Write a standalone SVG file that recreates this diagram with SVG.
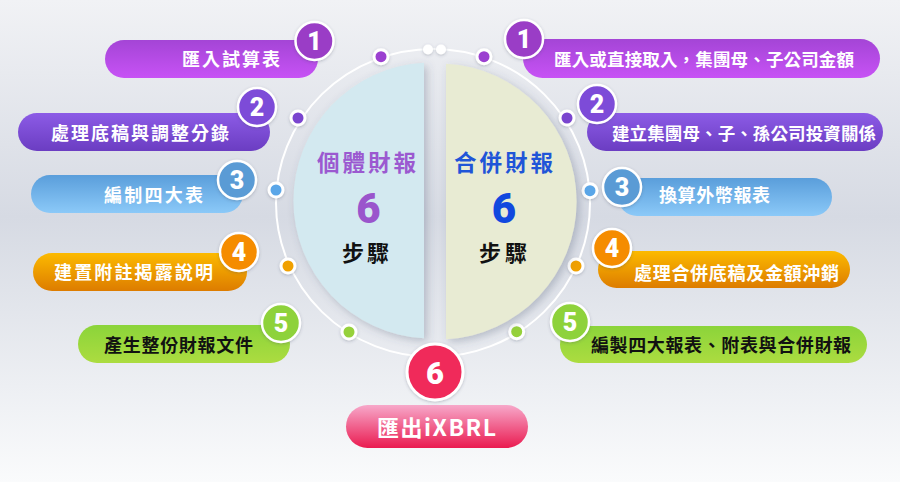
<svg xmlns="http://www.w3.org/2000/svg" width="900" height="482" viewBox="0 0 900 482">
<defs>
<linearGradient id="bg" x1="0" y1="0" x2="0" y2="1">
<stop offset="0" stop-color="#f1f2f5"/>
<stop offset="0.45" stop-color="#d6dae3"/>
<stop offset="1" stop-color="#fafbfc"/>
</linearGradient>
<linearGradient id="gP" x1="0" y1="0" x2="0" y2="1"><stop offset="0" stop-color="#a445d6"/><stop offset="1" stop-color="#c752f5"/></linearGradient>
<linearGradient id="gV" x1="0" y1="0" x2="0" y2="1"><stop offset="0" stop-color="#8c5be6"/><stop offset="1" stop-color="#6b3dc2"/></linearGradient>
<linearGradient id="gB" x1="0" y1="0" x2="0" y2="1"><stop offset="0" stop-color="#5a9edb"/><stop offset="1" stop-color="#8bc9f8"/></linearGradient>
<linearGradient id="gO" x1="0" y1="0" x2="0" y2="1"><stop offset="0" stop-color="#fcba00"/><stop offset="1" stop-color="#dd7c00"/></linearGradient>
<linearGradient id="gG" x1="0" y1="0" x2="0" y2="1"><stop offset="0" stop-color="#8bd43a"/><stop offset="1" stop-color="#acdc40"/></linearGradient>
<linearGradient id="gR" x1="0" y1="0" x2="0" y2="1"><stop offset="0" stop-color="#f7a8ca"/><stop offset="1" stop-color="#ea1b50"/></linearGradient>
<filter id="sh" x="-20%" y="-20%" width="140%" height="140%"><feDropShadow dx="3" dy="3" stdDeviation="4" flood-color="#4a5570" flood-opacity="0.3"/></filter>
<filter id="bs" x="-30%" y="-30%" width="160%" height="160%"><feDropShadow dx="0" dy="1" stdDeviation="1.5" flood-color="#404860" flood-opacity="0.3"/></filter>
</defs>
<style>
.t{font-family:"Noto Sans CJK TC","Noto Sans CJK SC",sans-serif;font-weight:700;font-size:18px;fill:#fff}
.s{font-size:17.5px}
.tk{fill:#111}
.n{font-family:Roboto,"DejaVu Sans",sans-serif;font-weight:900;font-size:25px;fill:#fff;text-anchor:middle}
.bd{stroke:#fff;stroke-width:2.5}
.ring{fill:none;stroke:#fff;stroke-width:2}
.dw{fill:#fff}
.c{font-family:"Noto Sans CJK TC","Noto Sans CJK SC",sans-serif;font-weight:700}
.big{font-family:Roboto,"DejaVu Sans",sans-serif;font-weight:900;font-size:42px;text-anchor:middle}
</style>
<rect x="0" y="0" width="900" height="482" fill="url(#bg)"/>

<g id="connectors">
<ellipse class="ring" cx="433" cy="203" rx="157" ry="154"/>
<g filter="url(#bs)">
<circle class="dw" cx="428" cy="49.5" r="5"/>
<circle class="dw" cx="441" cy="49.5" r="5"/>
<circle class="dw" cx="381" cy="56.7" r="8.5"/><circle cx="381" cy="56.7" r="5.5" fill="#9b3fd0"/>
<circle class="dw" cx="484" cy="56.7" r="8.5"/><circle cx="484" cy="56.7" r="5.5" fill="#9b3fd0"/>
<circle class="dw" cx="298" cy="118" r="8.5"/><circle cx="298" cy="118" r="5.5" fill="#7a45cf"/>
<circle class="dw" cx="567" cy="118" r="8.5"/><circle cx="567" cy="118" r="5.5" fill="#7a45cf"/>
<circle class="dw" cx="276" cy="190" r="8.5"/><circle cx="276" cy="190" r="5.5" fill="#5aa6e8"/>
<circle class="dw" cx="590" cy="190.7" r="8.5"/><circle cx="590" cy="190.7" r="5.5" fill="#5aa6e8"/>
<circle class="dw" cx="288" cy="266" r="8.5"/><circle cx="288" cy="266" r="5.5" fill="#f0a000"/>
<circle class="dw" cx="576" cy="266" r="8.5"/><circle cx="576" cy="266" r="5.5" fill="#f0a000"/>
<circle class="dw" cx="349" cy="332" r="8.5"/><circle cx="349" cy="332" r="5.5" fill="#96d13a"/>
<circle class="dw" cx="516.7" cy="331.7" r="8.5"/><circle cx="516.7" cy="331.7" r="5.5" fill="#96d13a"/>
</g>
</g>

<g id="individual">
<path d="M424,62.7 A138,138 0 0 0 424,338.3 Z" fill="#d3e9f0" filter="url(#sh)"/>
<text class="c" x="317" y="171" font-size="22.5" fill="#9b59d0" textLength="99" lengthAdjust="spacing">個體財報</text>
<text class="big" x="368.5" y="223" fill="#9a55cc">6</text>
<text class="c" x="342" y="261" font-size="22" fill="#111" textLength="47" lengthAdjust="spacing">步驟</text>
</g>

<g id="consolidated">
<path d="M446,63.7 A138,138 0 0 1 446,339.3 Z" fill="#e8ebd3" filter="url(#sh)"/>
<text class="c" x="454" y="171" font-size="22.5" fill="#1f55d8" textLength="99" lengthAdjust="spacing">合併財報</text>
<text class="big" x="504" y="223" fill="#1148df">6</text>
<text class="c" x="479" y="261" font-size="22" fill="#111" textLength="48" lengthAdjust="spacing">步驟</text>
</g>

<g id="L1">
<rect x="105" y="40" width="213" height="38" rx="19" fill="url(#gP)"/>
<text class="t" x="182" y="65.5" textLength="98" lengthAdjust="spacing">匯入試算表</text>
<circle class="bd" cx="314.5" cy="41" r="19" fill="#9a3ec6" filter="url(#bs)"/>
<text class="n" x="314.5" y="50">1</text>
</g>
<g id="L2">
<rect x="18" y="113" width="252" height="38" rx="19" fill="url(#gV)"/>
<text class="t" x="51" y="139.5" textLength="178" lengthAdjust="spacing">處理底稿與調整分錄</text>
<circle class="bd" cx="257" cy="107" r="19" fill="#7d4bd8" filter="url(#bs)"/>
<text class="n" x="257" y="116">2</text>
</g>
<g id="L3">
<rect x="31" y="175" width="212" height="38" rx="19" fill="url(#gB)"/>
<text class="t" x="104" y="201.5" textLength="99" lengthAdjust="spacing">編制四大表</text>
<circle class="bd" cx="237" cy="180" r="19" fill="#5a9bd5" filter="url(#bs)"/>
<text class="n" x="237" y="189">3</text>
</g>
<g id="L4">
<rect x="33" y="253" width="214" height="38" rx="19" fill="url(#gO)"/>
<text class="t" x="54" y="278.5" textLength="159" lengthAdjust="spacing">建置附註揭露說明</text>
<circle class="bd" cx="239" cy="252" r="19" fill="#f58c00" filter="url(#bs)"/>
<text class="n" x="239" y="261">4</text>
</g>
<g id="L5">
<rect x="78" y="325" width="212" height="38" rx="19" fill="url(#gG)"/>
<text class="t tk" x="104" y="351.5" textLength="149" lengthAdjust="spacing">產生整份財報文件</text>
<circle class="bd" cx="281" cy="323" r="19" fill="#8ed23a" filter="url(#bs)"/>
<text class="n" x="281" y="332">5</text>
</g>

<g id="R1">
<rect x="523" y="39" width="357" height="39" rx="19.5" fill="url(#gP)"/>
<text class="t s" x="554" y="65.5" textLength="300" lengthAdjust="spacing">匯入或直接取入，集團母、子公司金額</text>
<circle class="bd" cx="524" cy="39" r="19" fill="#9a3ec6" filter="url(#bs)"/>
<text class="n" x="524" y="48">1</text>
</g>
<g id="R2">
<rect x="587" y="113" width="296" height="38" rx="19" fill="url(#gV)"/>
<text class="t s" x="612" y="139.5" textLength="264" lengthAdjust="spacing">建立集團母、子、孫公司投資關係</text>
<circle class="bd" cx="597" cy="104" r="19" fill="#7d4bd8" filter="url(#bs)"/>
<text class="n" x="597" y="113">2</text>
</g>
<g id="R3">
<rect x="618" y="178" width="214" height="38" rx="19" fill="url(#gB)"/>
<text class="t" x="659" y="201.5" textLength="111" lengthAdjust="spacing">換算外幣報表</text>
<circle class="bd" cx="622" cy="187" r="19" fill="#5a9bd5" filter="url(#bs)"/>
<text class="n" x="622" y="196">3</text>
</g>
<g id="R4">
<rect x="598" y="251" width="252" height="37" rx="18.5" fill="url(#gO)"/>
<text class="t" x="634" y="280" textLength="205" lengthAdjust="spacing">處理合併底稿及金額沖銷</text>
<circle class="bd" cx="612" cy="248" r="19" fill="#f58c00" filter="url(#bs)"/>
<text class="n" x="612" y="257">4</text>
</g>
<g id="R5">
<rect x="560" y="326" width="307" height="37" rx="18.5" fill="url(#gG)"/>
<text class="t tk" x="591" y="351.5" textLength="260" lengthAdjust="spacing">編製四大報表、附表與合併財報</text>
<circle class="bd" cx="570" cy="322" r="19" fill="#8ed23a" filter="url(#bs)"/>
<text class="n" x="570" y="331">5</text>
</g>

<g id="S6">
<rect x="346" y="405" width="182" height="43" rx="21.5" fill="url(#gR)"/>
<text class="t" x="377" y="436" style="font-size:22px;letter-spacing:1.5px">匯出<tspan style="font-size:23px">iXBRL</tspan></text>
<circle cx="435" cy="372" r="28" fill="#f02a5a" stroke="#fff" stroke-width="3" filter="url(#bs)"/>
<text class="n" x="435" y="383.5" style="font-size:31px">6</text>
</g>
</svg>
